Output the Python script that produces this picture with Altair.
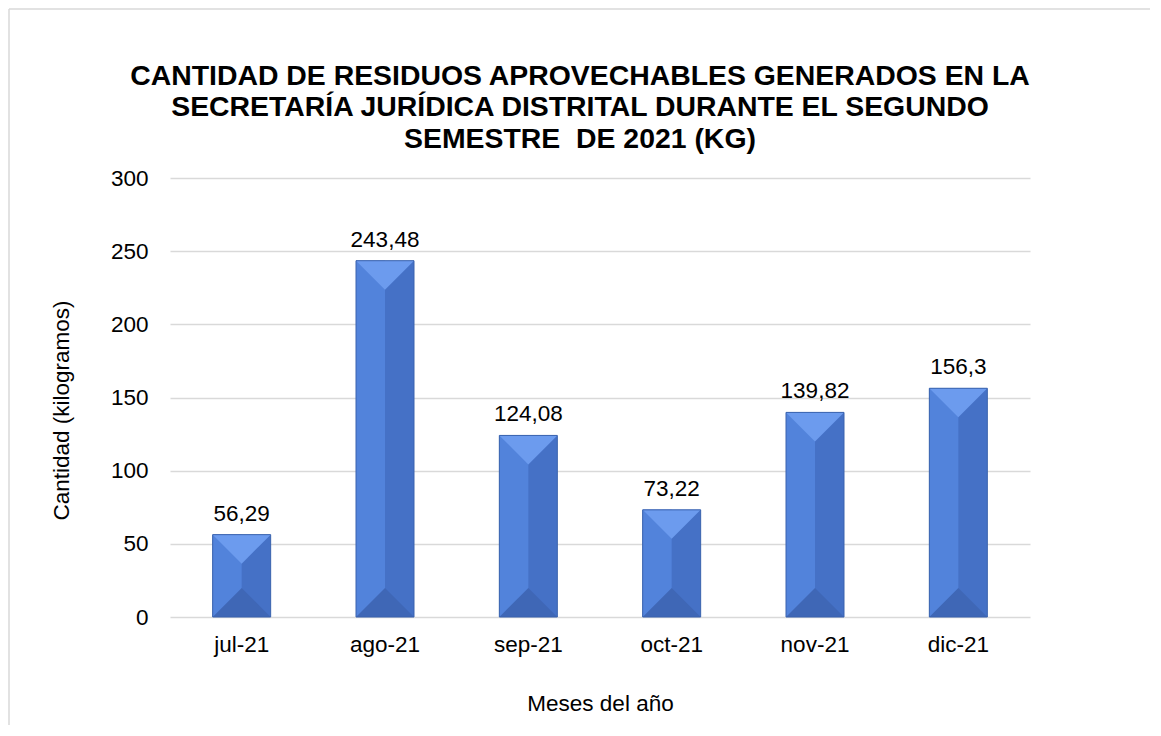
import altair as alt
import pandas as pd

months = ["jul-21", "ago-21", "sep-21", "oct-21", "nov-21", "dic-21"]
values = [56.29, 243.48, 124.08, 73.22, 139.82, 156.3]
labels = [str(v).replace(".", ",") for v in values]
y_ticks = [0, 50, 100, 150, 200, 250, 300]

df = pd.DataFrame({"mes": months, "valor": values, "etiqueta": labels})

FONT = "Liberation Sans"
FS = 22.5
BW = 58  # bar width in px

x = alt.X("mes:N", sort=months,
          scale=alt.Scale(paddingInner=0.6, paddingOuter=0.3),
          axis=alt.Axis(title="Meses del año", labelAngle=0, domain=False, ticks=False,
                        labelPadding=16, titlePadding=37, labelFontSize=FS, titleFontSize=FS,
                        titleFontWeight="normal", labelColor="#000000", titleColor="#000000",
                        labelFont=FONT, titleFont=FONT))
y = alt.Y("valor:Q", scale=alt.Scale(domain=[0, 300], nice=False),
          axis=alt.Axis(title="Cantidad (kilogramos)", values=y_ticks, domain=False, ticks=False,
                        labelPadding=22, titlePadding=37, titleY=232,
                        labelFontSize=FS, titleFontSize=FS,
                        titleFontWeight="normal", gridColor="#d9d9d9", gridWidth=1.3,
                        labelColor="#000000", titleColor="#000000", labelFont=FONT, titleFont=FONT))

base = alt.Chart(df)

right = base.mark_bar(width=BW, color="#4571C6").encode(x=x, y=y)
left = base.mark_bar(width=BW / 2, xOffset=-BW / 4, color="#5283DB").encode(x=x, y=y)
top_tri = base.mark_point(shape="M-1,-1L1,-1L0,0Z", size=BW * BW, filled=True, opacity=1,
                          color="#6C9BEE", strokeWidth=0, yOffset=BW / 2).encode(x=x, y=y)
bot_tri = base.mark_point(shape="M-1,1L1,1L0,0Z", size=BW * BW, filled=True, opacity=1,
                          color="#3F67B6", strokeWidth=0, yOffset=-BW / 2).encode(
    x=x, y=alt.datum(0))
outline = base.mark_bar(width=BW, fillOpacity=0, stroke="#3A63AE", strokeWidth=1).encode(x=x, y=y)
text = base.mark_text(baseline="bottom", dy=-9, fontSize=FS, font=FONT, color="#000000").encode(
    x=x, y=y, text="etiqueta:N")

border_data = alt.Data(values=[{"k": 1}])
border_v = alt.Chart(border_data).mark_rule(color="#d9d9d9", strokeWidth=1.5).encode(
    x=alt.value(-161), y=alt.value(-169), y2=alt.value(700))
border_h = alt.Chart(border_data).mark_rule(color="#d9d9d9", strokeWidth=1.5).encode(
    x=alt.value(-161), x2=alt.value(1200), y=alt.value(-169))

chart = alt.layer(border_v, border_h, right, left, top_tri, bot_tri, outline, text).properties(
    width=860, height=439,
    title=alt.TitleParams(
        text=["CANTIDAD DE RESIDUOS APROVECHABLES GENERADOS EN LA",
              "SECRETARÍA JURÍDICA DISTRITAL DURANTE EL SEGUNDO",
              "SEMESTRE\u00a0 DE 2021 (KG)"],
        font=FONT, fontSize=28.4, fontWeight="bold", color="#000000", anchor="middle",
        frame="group", dx=-20, lineHeight=31.5, offset=-146),
    autosize=alt.AutoSizeParams(type="none"),
    padding={"left": 162, "top": 170, "right": 120, "bottom": 108},
).configure_view(stroke=None)

chart.save("out.html", embed_options={"renderer": "svg", "actions": False})
